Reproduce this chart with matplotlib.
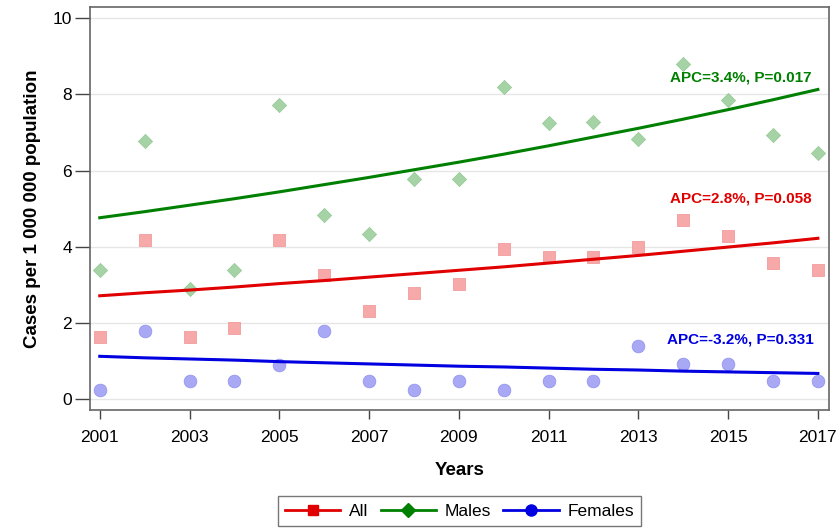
import numpy as np
import matplotlib
matplotlib.use('Agg')
import matplotlib.pyplot as plt
from matplotlib.lines import Line2D

plt.rcParams['font.family'] = ['Liberation Sans', 'DejaVu Sans']

years = list(range(2001, 2018))

# observed rates
all_obs = [1.62, 4.18, 1.62, 1.86, 4.18, 3.26, 2.32, 2.79, 3.02, 3.94, 3.74, 3.74, 3.99, 4.71, 4.27, 3.58, 3.38]
males_obs = [3.40, 6.77, 2.90, 3.40, 7.72, 4.82, 4.33, 5.77, 5.77, 8.19, 7.25, 7.27, 6.82, 8.79, 7.85, 6.93, 6.47]
females_obs = [0.23, 1.79, 0.46, 0.46, 0.89, 1.79, 0.46, 0.23, 0.46, 0.23, 0.46, 0.46, 1.38, 0.92, 0.92, 0.46, 0.46]

# fitted trend values
all_fit = [2.71, 2.79, 2.86, 2.94, 3.03, 3.11, 3.20, 3.29, 3.38, 3.47, 3.57, 3.67, 3.77, 3.88, 3.99, 4.10, 4.22]
males_fit = [4.76, 4.92, 5.09, 5.26, 5.44, 5.63, 5.82, 6.02, 6.22, 6.43, 6.65, 6.88, 7.11, 7.35, 7.60, 7.86, 8.13]
females_fit = [1.12, 1.08, 1.05, 1.02, 0.98, 0.95, 0.92, 0.89, 0.86, 0.84, 0.81, 0.78, 0.76, 0.73, 0.71, 0.69, 0.67]

labels = ['All', 'Males', 'Females']
apc_text = ['APC=2.8%, P=0.058', 'APC=3.4%, P=0.017', 'APC=-3.2%, P=0.331']

red = '#e00000'
green = '#008000'
blue = '#0000e0'

fig = plt.figure(figsize=(8.4, 5.29), dpi=100)
ax = fig.add_axes([0.107, 0.225, 0.88, 0.762])

ax.set_axisbelow(True)
ax.grid(axis='y', color='#e6e6e6', linewidth=1)

ax.scatter(years, all_obs, marker='s', s=64, color='#f7a8a8', edgecolors='#f09090', linewidths=0.5, zorder=2)
ax.scatter(years, males_obs, marker='D', s=52, color='#a6d3a6', edgecolors='#90c890', linewidths=0.5, zorder=2)
ax.scatter(years, females_obs, marker='o', s=84, color='#a8a8f4', edgecolors='#9090f0', linewidths=0.5, zorder=2)

ax.plot(years, all_fit, color=red, linewidth=2.2, zorder=3)
ax.plot(years, males_fit, color=green, linewidth=2.2, zorder=3)
ax.plot(years, females_fit, color=blue, linewidth=2.2, zorder=3)

ax.text(2016.85, 5.26, apc_text[0], color=red, fontsize=11, fontweight='bold', ha='right', va='center')
ax.text(2016.85, 8.45, apc_text[1], color=green, fontsize=11, fontweight='bold', ha='right', va='center')
ax.text(2016.9, 1.55, apc_text[2], color=blue, fontsize=11, fontweight='bold', ha='right', va='center')

ax.set_xlim(2000.78, 2017.25)
ax.set_ylim(-0.29, 10.3)
ax.set_xticks(range(2001, 2018, 2))
ax.set_yticks(range(0, 11, 2))
ax.tick_params(direction='out', width=1, colors='#444444', labelsize=12.5, labelcolor='black')
ax.tick_params(axis='x', length=6.5, pad=8)
ax.tick_params(axis='y', length=11, pad=2)
for s in ax.spines.values():
    s.set_color('#666666')
    s.set_linewidth(1.2)

ax.set_xlabel('Years', fontsize=13.5, fontweight='bold', labelpad=12)
ax.set_ylabel('Cases per 1 000 000 population', fontsize=13.5, fontweight='bold', labelpad=8)

handles = [
    Line2D([], [], color=red, marker='s', markersize=7, linewidth=2),
    Line2D([], [], color=green, marker='D', markersize=7, linewidth=2),
    Line2D([], [], color=blue, marker='o', markersize=8, linewidth=2),
]
leg = fig.legend(handles, labels, loc='lower center', bbox_to_anchor=(0.547, 0.0), ncol=3,
                 fontsize=12.5, frameon=True, fancybox=False, edgecolor='#555555',
                 handlelength=3.2, columnspacing=0.7, handletextpad=0.5, borderpad=0.4,
                 borderaxespad=0.2)
leg.get_frame().set_linewidth(1)

fig.savefig('out.png', dpi=100)
